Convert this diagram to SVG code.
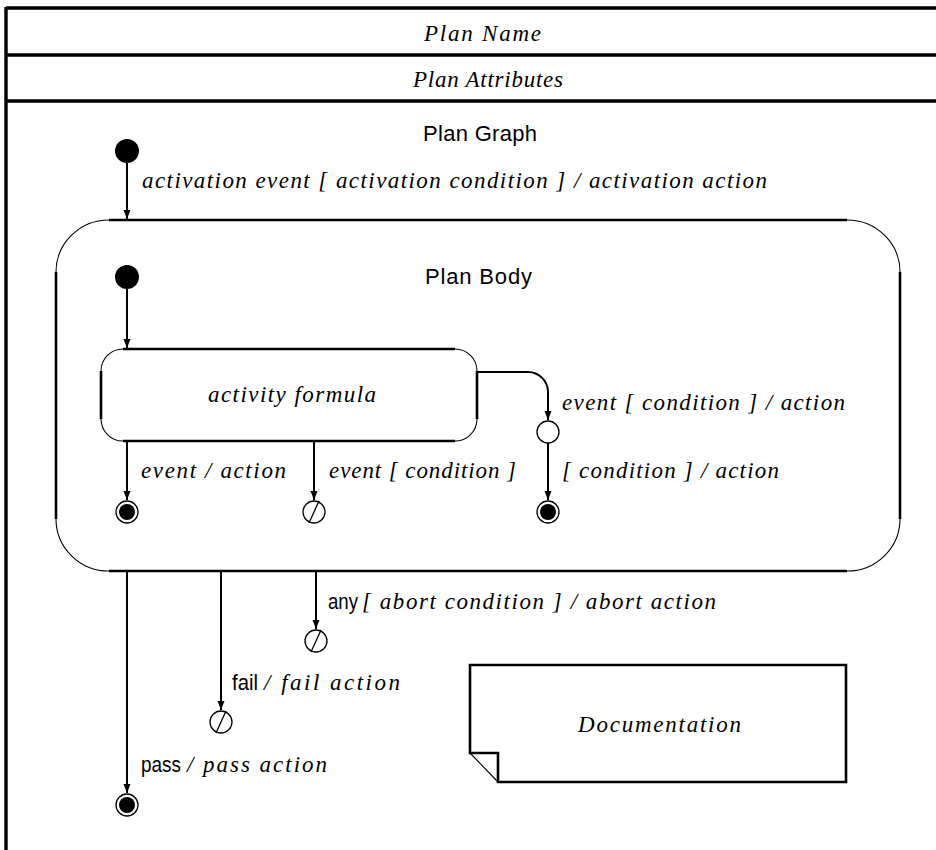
<svg xmlns="http://www.w3.org/2000/svg" width="936" height="850" viewBox="0 0 936 850">
<style>
.it{font-family:"Liberation Serif","DejaVu Serif",serif;font-style:italic;font-size:23px;fill:#000}
.sa{font-family:"Liberation Sans","DejaVu Sans",sans-serif;font-size:22px;fill:#000}
.frame{stroke:#000;stroke-width:3.4;fill:none}
.thick{stroke:#000;stroke-width:2.6;fill:none}
.thin{stroke:#000;stroke-width:1.1;fill:none}
.conn{stroke:#000;stroke-width:2;fill:none}
.init{fill:#000}
.ring{fill:#fff;stroke:#000;stroke-width:1.3}
</style>
<defs>
<marker id="ah" markerWidth="10" markerHeight="10" refX="9" refY="5" orient="auto" markerUnits="userSpaceOnUse">
<path d="M0,1.5 L9,5 L0,8.5 Z" fill="#000"/>
</marker>
</defs>
<rect width="936" height="850" fill="#fff"/>
<g id="frame">
<line class="frame" x1="6" y1="7" x2="6" y2="850"/>
<line class="frame" x1="6" y1="8" x2="936" y2="8"/>
<line class="frame" x1="6" y1="55" x2="936" y2="55"/>
<line class="frame" x1="6" y1="101" x2="936" y2="101"/>
<text class="it" x="424" y="41" textLength="117" lengthAdjust="spacing">Plan Name</text>
<text class="it" x="413" y="87" textLength="150" lengthAdjust="spacing">Plan Attributes</text>
<text class="sa" x="423" y="141" textLength="114" lengthAdjust="spacing">Plan Graph</text>
</g>
<g id="initial-outer"><circle class="init" cx="127" cy="151" r="12"/></g>
<g id="plan-body">
<line class="thick" x1="109" y1="220" x2="847" y2="220"/>
<line class="thick" x1="109" y1="571" x2="847" y2="571"/>
<line class="thick" x1="56" y1="272" x2="56" y2="519"/>
<line class="thick" x1="900" y1="272" x2="900" y2="519"/>
<path class="thin" d="M109,220 A53,52 0 0 0 56,272"/>
<path class="thin" d="M847,220 A53,52 0 0 1 900,272"/>
<path class="thin" d="M56,519 A53,52 0 0 0 109,571"/>
<path class="thin" d="M900,519 A53,52 0 0 1 847,571"/>
<text class="sa" x="425" y="284" textLength="107" lengthAdjust="spacing">Plan Body</text>
</g>
<g id="initial-inner"><circle class="init" cx="127" cy="277" r="12"/></g>
<g id="activity">
<line class="thick" x1="123" y1="349" x2="455" y2="349"/>
<line class="thick" x1="123" y1="441" x2="455" y2="441"/>
<line class="thick" x1="101" y1="371" x2="101" y2="419"/>
<line class="thick" x1="477" y1="371" x2="477" y2="419"/>
<path class="thin" d="M123,349 A22,22 0 0 0 101,371"/>
<path class="thin" d="M455,349 A22,22 0 0 1 477,371"/>
<path class="thin" d="M101,419 A22,22 0 0 0 123,441"/>
<path class="thin" d="M477,419 A22,22 0 0 1 455,441"/>
<text class="it" x="208" y="402" textLength="168" lengthAdjust="spacing">activity formula</text>
</g>
<g id="choice"><circle class="ring" cx="548" cy="432" r="11"/></g>
<g id="final-1"><circle class="ring" cx="127" cy="512" r="11"/><circle class="init" cx="127" cy="512" r="8"/></g>
<g id="term-1"><circle class="ring" cx="314" cy="512" r="11"/><line x1="309" y1="523" x2="319" y2="501" stroke="#000" stroke-width="1.3"/></g>
<g id="final-2"><circle class="ring" cx="548" cy="512" r="11"/><circle class="init" cx="548" cy="512" r="8"/></g>
<g id="term-abort"><circle class="ring" cx="316" cy="641" r="11"/><line x1="311" y1="652" x2="321" y2="630" stroke="#000" stroke-width="1.3"/></g>
<g id="term-fail"><circle class="ring" cx="221" cy="722" r="11"/><line x1="216" y1="733" x2="226" y2="711" stroke="#000" stroke-width="1.3"/></g>
<g id="final-pass"><circle class="ring" cx="127" cy="805" r="11"/><circle class="init" cx="127" cy="805" r="8"/></g>
<g id="documentation">
<path class="thick" d="M470,753 V665 H846 V782 H498 V753 Z"/>
<line class="thin" x1="470" y1="753" x2="498" y2="782"/>
<text class="it" x="578" y="732" textLength="163" lengthAdjust="spacing">Documentation</text>
</g>
<g id="connectors">
<line class="conn" x1="127" y1="163" x2="127" y2="219" marker-end="url(#ah)"/>
<line class="conn" x1="127" y1="289" x2="127" y2="348" marker-end="url(#ah)"/>
<line class="conn" x1="127" y1="441" x2="127" y2="500" marker-end="url(#ah)"/>
<line class="conn" x1="314" y1="441" x2="314" y2="500" stroke-width="2.6" marker-end="url(#ah)"/>
<path class="conn" d="M477,372 H528 A20,20 0 0 1 548,392 V420" marker-end="url(#ah)"/>
<line class="conn" x1="548" y1="443" x2="548" y2="500" marker-end="url(#ah)"/>
<line class="conn" x1="127" y1="571" x2="127" y2="793" marker-end="url(#ah)"/>
<line class="conn" x1="221" y1="571" x2="221" y2="710" marker-end="url(#ah)"/>
<line class="conn" x1="316" y1="571" x2="316" y2="629" marker-end="url(#ah)"/>
<text class="it" x="142" y="188" textLength="625" lengthAdjust="spacing">activation event [ activation condition ] / activation action</text>
<text class="it" x="562" y="410" textLength="283" lengthAdjust="spacing">event [ condition ] / action</text>
<text class="it" x="141" y="478" textLength="145" lengthAdjust="spacing">event / action</text>
<text class="it" x="329" y="478" textLength="187" lengthAdjust="spacing">event [ condition ]</text>
<text class="it" x="562" y="478" textLength="217" lengthAdjust="spacing">[ condition ] / action</text>
<text class="sa" x="328" y="609" textLength="30" lengthAdjust="spacingAndGlyphs">any</text>
<text class="it" x="362" y="609" textLength="354" lengthAdjust="spacing">[ abort condition ] / abort action</text>
<text class="sa" x="232" y="690" textLength="26" lengthAdjust="spacingAndGlyphs">fail</text>
<text class="it" x="264" y="690" textLength="136" lengthAdjust="spacing">/ fail action</text>
<text class="sa" x="141" y="772" textLength="40" lengthAdjust="spacingAndGlyphs">pass</text>
<text class="it" x="187" y="772" textLength="140" lengthAdjust="spacing">/ pass action</text>
</g>
</svg>
